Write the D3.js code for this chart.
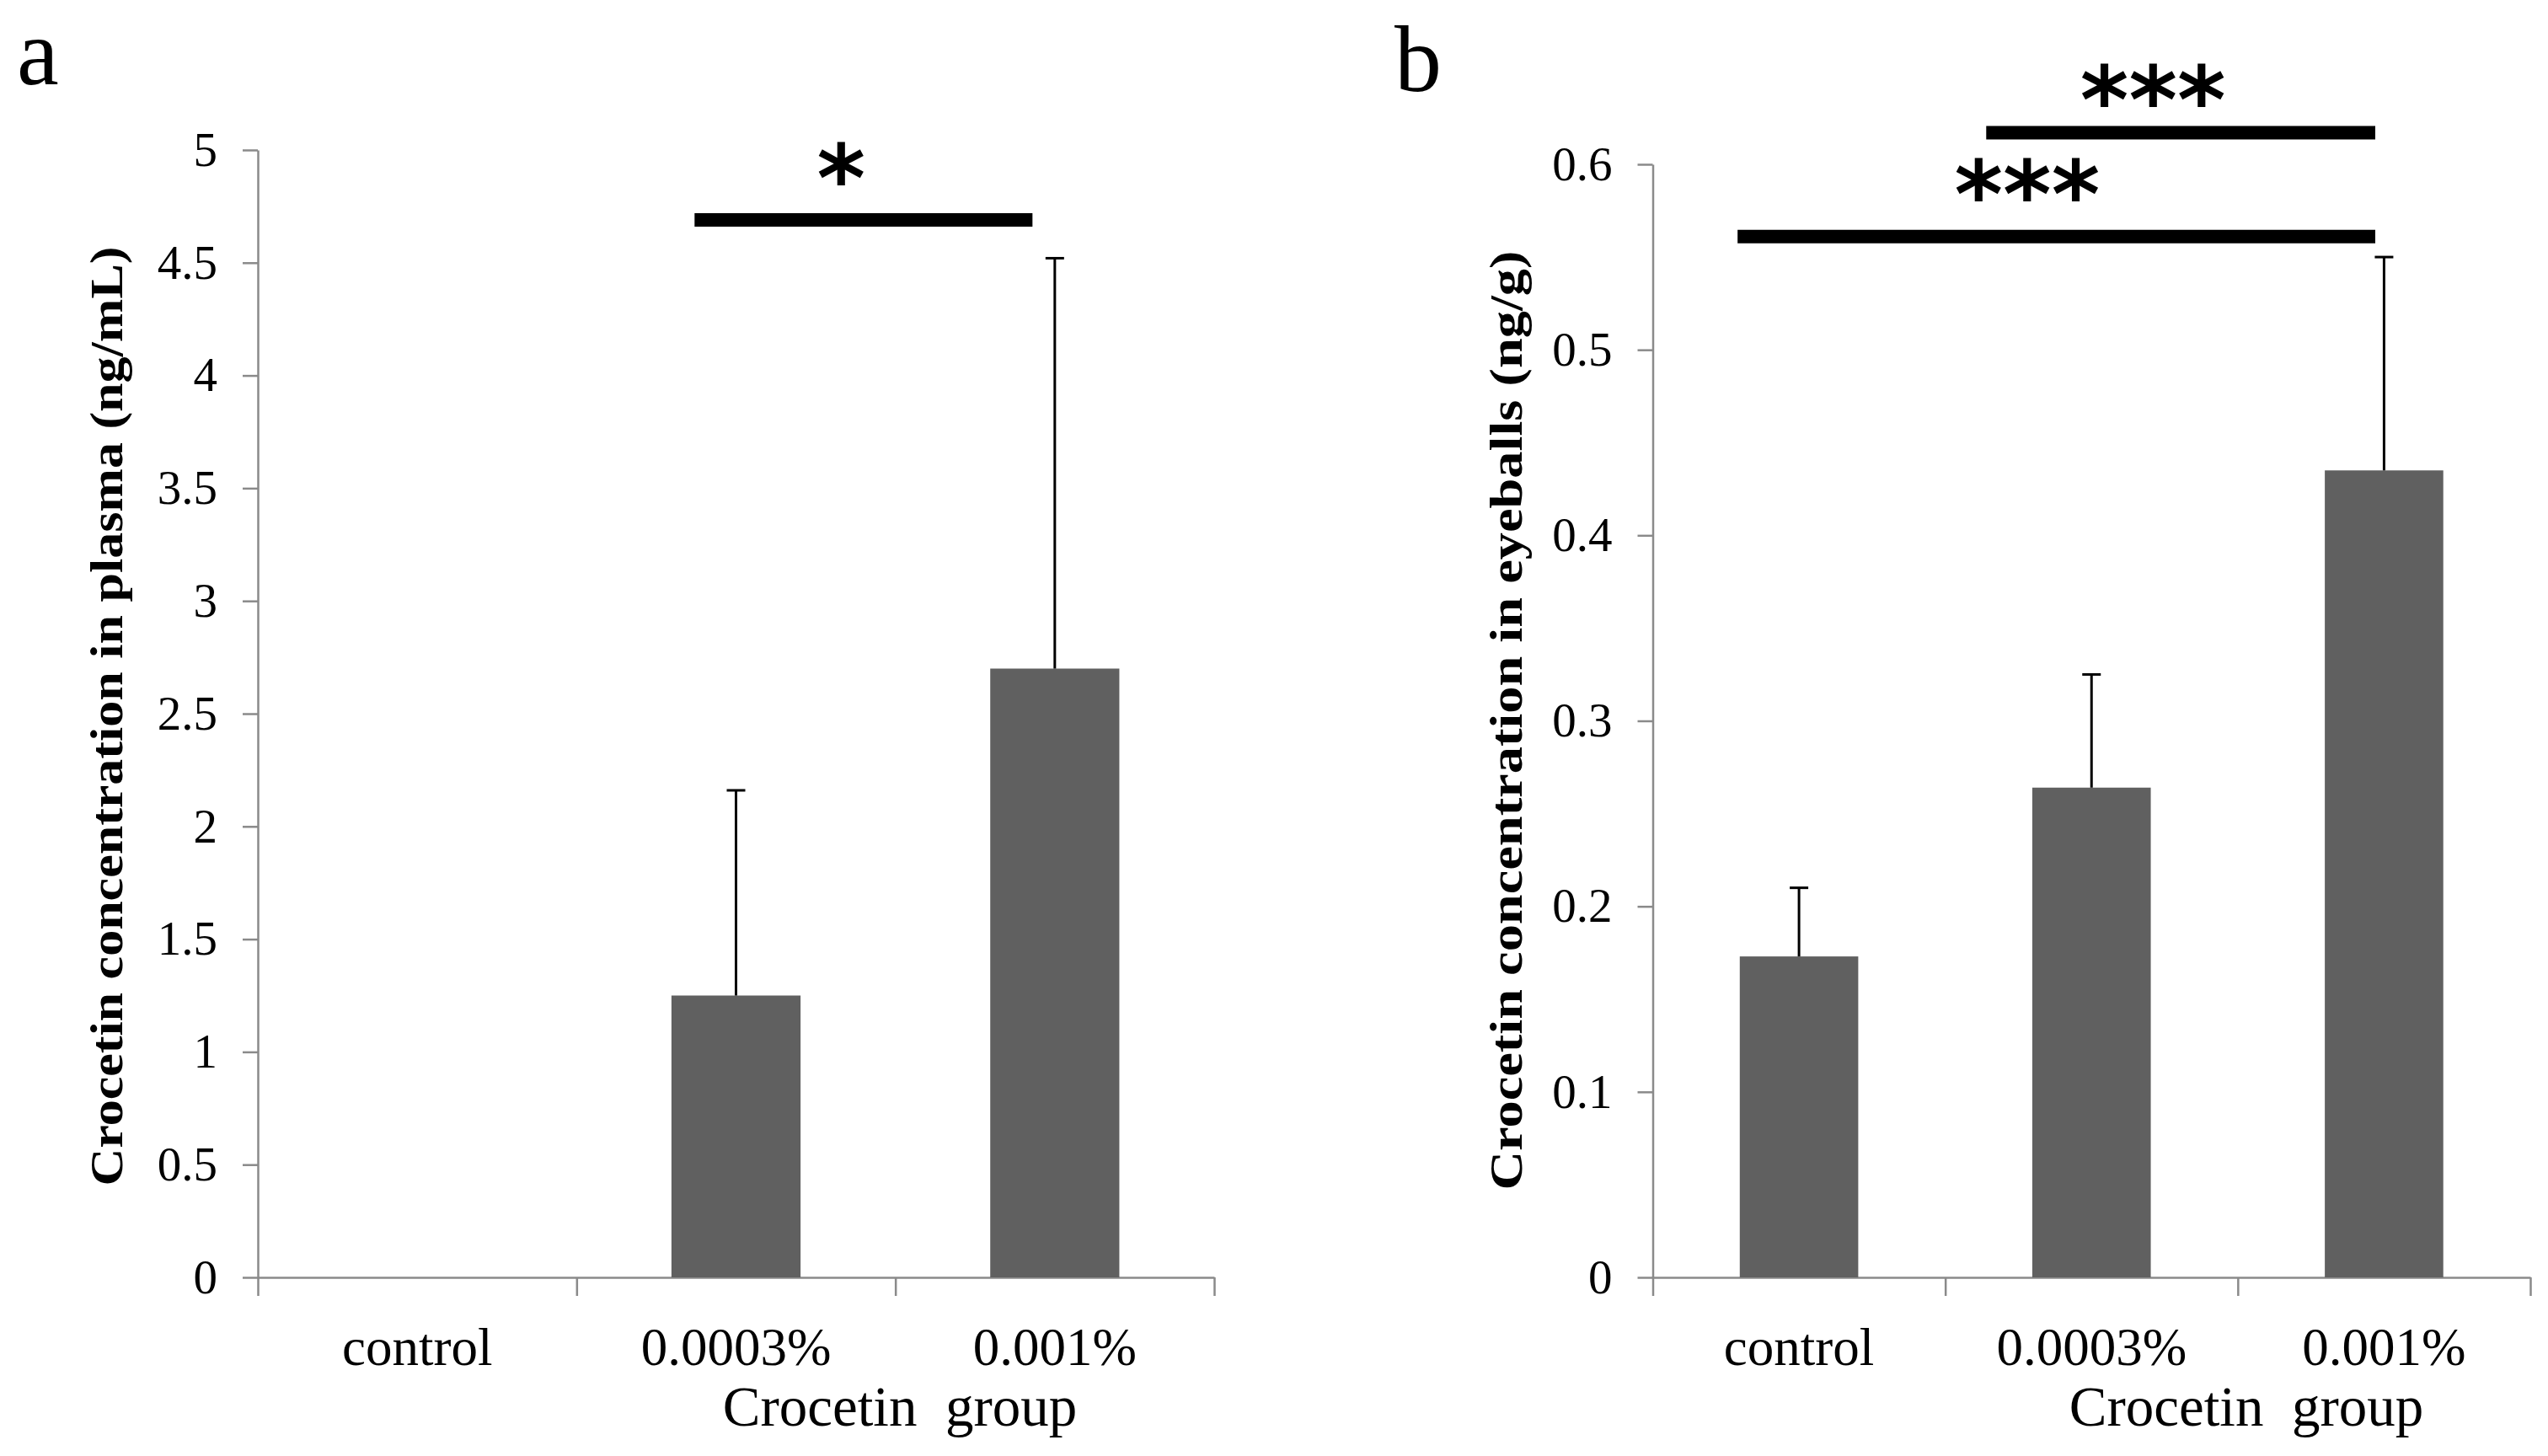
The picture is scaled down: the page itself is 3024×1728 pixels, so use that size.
<!DOCTYPE html>
<html>
<head>
<meta charset="utf-8">
<script src="https://cdn.jsdelivr.net/npm/d3@7"></script>
<style>
  body { margin: 0; background: #fff; }
  text { font-family: "Liberation Serif", serif; }
</style>
</head>
<body>
<div id="chart"></div>
<script>
// Data
const groups = ['control', '0.0003%', '0.001%']

const plasmaMean = [0, 1.25, 2.70]
const plasmaErr = [0, 0.91, 1.82]
const plasmaTicks = [0, 0.5, 1, 1.5, 2, 2.5, 3, 3.5, 4, 4.5, 5]

const eyeMean = [0.173, 0.264, 0.435]
const eyeErr = [0.037, 0.061, 0.115]
const eyeTicks = [0, 0.1, 0.2, 0.3, 0.4, 0.5, 0.6]

// significance brackets: [from, to] in category units, level in data units
const plasmaSig = [{from: 1.37, to: 2.43, level: 4.69, label: '*', at: 1.83, lift: 4.96}]
const eyeSig = [
  {from: 0.29, to: 2.47, level: 0.561, label: '***', at: 1.28, lift: 0.594},
  {from: 1.14, to: 2.47, level: 0.617, label: '***', at: 1.71, lift: 0.645}
]

const W = 3024, H = 1728
const svg = d3.select('#chart').append('svg')
    .attr('width', W)
    .attr('height', H)

function drawPanel(o) {
  const g = svg.append('g')

  const x = d3.scaleBand().domain(groups).range([o.x0, o.x1]).padding(0)
  const xLin = d3.scaleLinear().domain([0, groups.length]).range([o.x0, o.x1])
  const y = d3.scaleLinear().domain([0, o.max]).range([o.yBottom, o.yTop])

  // y axis
  const yAxis = d3.axisLeft(y)
      .tickValues(o.ticks)
      .tickSize(18)
      .tickSizeOuter(0)
      .tickPadding(30)
      .tickFormat(d => String(d))
  const ya = g.append('g')
      .attr('transform', `translate(${o.x0},0)`)
      .call(yAxis)
  ya.selectAll('text').attr('font-size', 57).attr('fill', '#000')
      .style('font-family', '"Liberation Serif", serif')
  ya.selectAll('path, line').attr('stroke', '#8a8a8a').attr('stroke-width', 2.5)

  // x axis (boundary ticks, Excel style)
  const xAxis = d3.axisBottom(xLin)
      .tickValues(d3.range(groups.length + 1))
      .tickSize(22)
      .tickSizeOuter(0)
      .tickFormat('')
  const xa = g.append('g')
      .attr('transform', `translate(0,${o.yBottom})`)
      .call(xAxis)
  xa.selectAll('path, line').attr('stroke', '#8a8a8a').attr('stroke-width', 2.5)

  g.selectAll('.cat')
      .data(groups)
      .enter().append('text')
      .attr('x', d => x(d) + x.bandwidth() / 2)
      .attr('y', 1620)
      .attr('text-anchor', 'middle')
      .attr('font-size', 63)
      .text(d => d)

  // bars
  const bw = x.bandwidth() * 0.405
  g.selectAll('.bar')
      .data(o.mean)
      .enter().append('rect')
      .attr('x', (d, i) => x(groups[i]) + (x.bandwidth() - bw) / 2)
      .attr('y', d => y(d))
      .attr('width', bw)
      .attr('height', d => y(0) - y(d))
      .attr('fill', '#606060')

  // error bars
  const eb = g.selectAll('.err')
      .data(o.mean.map((m, i) => ({m, e: o.err[i], c: x(groups[i]) + x.bandwidth() / 2})).filter(d => d.e > 0))
      .enter().append('g')
      .attr('stroke', '#000')
      .attr('stroke-width', 3)
  eb.append('line')
      .attr('x1', d => d.c).attr('x2', d => d.c)
      .attr('y1', d => y(d.m)).attr('y2', d => y(d.m + d.e))
  eb.append('line')
      .attr('x1', d => d.c - 11).attr('x2', d => d.c + 11)
      .attr('y1', d => y(d.m + d.e)).attr('y2', d => y(d.m + d.e))

  // significance
  o.sig.forEach(s => {
    g.append('line')
        .attr('x1', xLin(s.from)).attr('x2', xLin(s.to))
        .attr('y1', y(s.level)).attr('y2', y(s.level))
        .attr('stroke', '#000')
        .attr('stroke-width', 16)
    g.append('text')
        .attr('x', xLin(s.at))
        .attr('y', y(s.lift) + 62)
        .attr('text-anchor', 'middle')
        .attr('font-size', 110)
        .attr('font-weight', 'bold')
        .style('font-family', '"DejaVu Sans", sans-serif')
        .text(s.label)
  })

  // titles
  g.append('text')
      .attr('transform', `translate(${o.titleX},${o.titleY}) rotate(-90)`)
      .attr('text-anchor', 'middle')
      .attr('dominant-baseline', 'central')
      .attr('font-size', 55)
      .attr('font-weight', 'bold')
      .attr('textLength', 1115)
      .attr('lengthAdjust', 'spacingAndGlyphs')
      .text(o.yTitle)

  g.append('text')
      .attr('x', o.xTitleX)
      .attr('y', 1692)
      .attr('text-anchor', 'middle')
      .attr('font-size', 67)
      .attr('xml:space', 'preserve')
      .style('white-space', 'pre')
      .text('Crocetin  group')

  g.append('text')
      .attr('x', o.labelX)
      .attr('y', o.labelY)
      .attr('font-size', 112)
      .text(o.label)
}

drawPanel({
  x0: 306, x1: 1441, yBottom: 1516, yTop: 178, max: 5,
  ticks: plasmaTicks, mean: plasmaMean, err: plasmaErr, sig: plasmaSig,
  yTitle: 'Crocetin concentration in plasma (ng/mL)', titleX: 126, titleY: 850,
  xTitleX: 1068, label: 'a', labelX: 20, labelY: 100
})

drawPanel({
  x0: 1961.5, x1: 3003, yBottom: 1516, yTop: 195, max: 0.6,
  ticks: eyeTicks, mean: eyeMean, err: eyeErr, sig: eyeSig,
  yTitle: 'Crocetin concentration in eyeballs (ng/g)', titleX: 1787, titleY: 855,
  xTitleX: 2666, label: 'b', labelX: 1655, labelY: 108
})
</script>
</body>
</html>
